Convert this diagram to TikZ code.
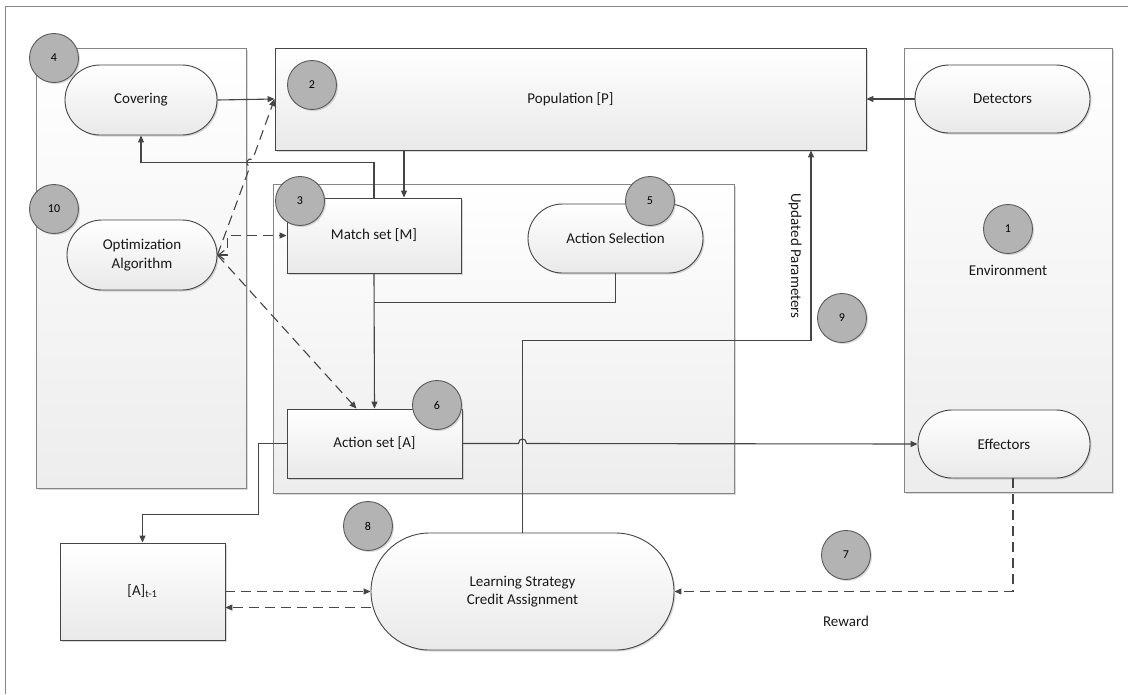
\documentclass[tikz,border=0pt]{standalone}
\usepackage{fontspec}
\setmainfont{Carlito}
\usetikzlibrary{arrows.meta,calc,shadows}
\definecolor{ln}{HTML}{454545}
\definecolor{pnl}{HTML}{858585}
\definecolor{circ}{HTML}{B3B3B3}
\definecolor{circb}{HTML}{5A5A5A}
\definecolor{pbot}{HTML}{EDEDED}
\definecolor{nbot}{HTML}{E9E9E9}
\begin{document}
\begin{tikzpicture}[x=1pt,y=-1pt,
  lbl/.style={font=\fontsize{15}{18.5}\selectfont, text=black!90, align=center},
  shd/.style={drop shadow={shadow xshift=1.5pt,shadow yshift=-1.5pt,opacity=0.3}},
  panel/.style={shd, draw=pnl, line width=0.9pt, top color=white, bottom color=pbot, inner sep=0pt},
  box/.style={lbl, shd, draw=ln, line width=0.9pt, top color=white, bottom color=nbot, inner sep=0pt},
  stad/.style={box, rounded corners=#1},
  num/.style={circle, shd, draw=circb, line width=0.9pt, fill=circ, minimum size=49pt, inner sep=0pt, font=\fontsize{12}{14}\selectfont},
  arr/.style={draw=ln, line width=1.1pt, -{Triangle[length=7pt,width=6pt]}},
  plain/.style={draw=ln, line width=1.1pt},
  dsh/.style={arr, dash pattern=on 10pt off 6pt}
]
\useasboundingbox (0,0) rectangle (1128,694);
\draw[draw=pnl, line width=0.9pt] (5,694) -- (5,6) -- (1128,6);

% panels
\node[panel, minimum width=210pt, minimum height=440pt] (leftp) at (141,268) {};
\node[panel, minimum width=461pt, minimum height=309pt] (midp) at (503.5,338.5) {};
\node[panel, minimum width=208pt, minimum height=444pt] (envp) at (1008,270) {};

% boxes
\node[box, minimum width=591pt, minimum height=102pt] (pop) at (570.5,99) {Population [P]};
\node[box, minimum width=174pt, minimum height=75pt] (match) at (374,235.5) {Match set [M]};
\node[box, minimum width=175pt, minimum height=69pt] (actset) at (374.5,443.5) {Action set [A]};
\node[box, minimum width=165pt, minimum height=97pt] (At1) at (142.5,591.5) {[A]\textsubscript{t-1}};

% stadiums
\node[stad=35pt, minimum width=152pt, minimum height=70pt] (covering) at (141,100) {Covering};
\node[stad=35pt, minimum width=150pt, minimum height=70pt] (opt) at (142,255) {Optimization\\Algorithm};
\node[stad=34.5pt, minimum width=175pt, minimum height=69pt] (actsel) at (615.5,238.5) {Action Selection};
\node[stad=34pt, minimum width=175pt, minimum height=68pt] (detectors) at (1002.5,99) {Detectors};
\node[stad=34pt, minimum width=172pt, minimum height=68pt] (effectors) at (1004,444) {Effectors};
\node[stad=58.5pt, minimum width=303pt, minimum height=117pt] (learn) at (522.5,591.5) {Learning Strategy\\Credit Assignment};

% texts
\node[lbl] (env) at (1008,270) {Environment};
\node[lbl] (rew) at (846,621) {Reward};
\node[lbl, rotate=-90] (upd) at (795,256) {Updated Parameters};

% helper coordinates
\coordinate (mtop) at ([xshift=30pt]match.north);
\coordinate (pu) at ([xshift=240.5pt]pop.south);
\coordinate (hopc) at (learn.north |- actset.east);
\coordinate (asl) at ([xshift=-18pt]actset.north);

% solid connectors
\draw[arr] (covering.east) -- (pop.west);
\draw[arr] (detectors.west) -- (pop.east);
\draw[arr] (mtop |- pop.south) -- (mtop);
\draw[arr] (match.north) -- ++(0,-35) -| (covering.south);
\draw[arr] (match.south) -- (actset.north);
\draw[plain] (actsel.south) |- ($(match.south)+(0,29)$);
\draw[arr] (actset.west) -- ++(-28,0) -- ++(0,71) -| (At1.north);
\draw[arr] (learn.north) -- ++(0,-192) -| (pu);
\draw[arr] (actset.east) -- ($(hopc)+(-4,0)$) .. controls ($(hopc)+(-4,-6)$) and ($(hopc)+(4,-6)$) .. ($(hopc)+(4,0)$) -- (effectors.west);

% dashed connectors
\draw[dsh] (opt.east) -- (249.9,166.7) .. controls (244.3,164.6) and (247.1,157.2) .. (252.7,159.3) -- (pop.west);
\draw[dsh] (opt.east) -- (asl);
\draw[dsh, {Straight Barb[length=6pt,width=9pt]}-{Triangle[length=7pt,width=6pt]}] (opt.east) -- ++(10,0) |- (match.west);
\draw[dsh] (At1.east) -- (learn.west);
\draw[dsh] ([yshift=-16pt]learn.west) -- ([yshift=-16pt]At1.east);
\draw[dsh] ([xshift=9pt]effectors.south) |- (learn.east);

% numbered circles
\node[num] (c1) at (1008,229) {1};
\node[num] (c2) at (312,85) {2};
\node[num] (c3) at (300,201) {3};
\node[num] (c4) at (54,58) {4};
\node[num] (c5) at (650,201) {5};
\node[num] (c6) at (437,405) {6};
\node[num] (c7) at (846,555) {7};
\node[num] (c8) at (368,526) {8};
\node[num] (c9) at (842,318) {9};
\node[num] (c10) at (54,209) {10};
\end{tikzpicture}
\end{document}
